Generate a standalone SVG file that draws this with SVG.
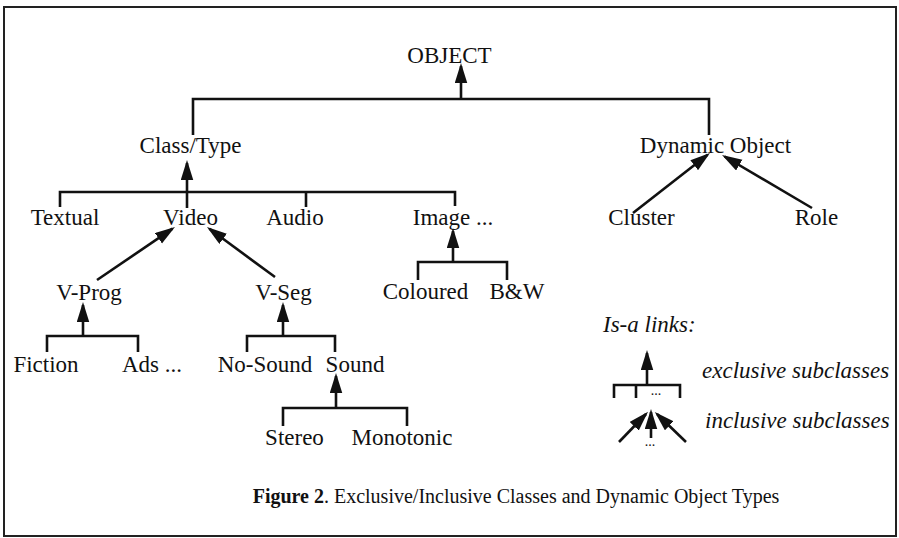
<svg xmlns="http://www.w3.org/2000/svg" width="899" height="538" viewBox="0 0 899 538">
<style>
text{font-family:"Liberation Serif","Times New Roman",serif;font-size:23px;fill:#111;}
.c{text-anchor:middle;}
.it{font-style:italic;}
.cap{font-size:20px;}
.ln{stroke:#111;stroke-width:2.6;fill:none;}
.ar{stroke:#111;stroke-width:2.6;fill:none;marker-end:url(#ah);}
</style>
<defs>
<marker id="ah" markerUnits="userSpaceOnUse" markerWidth="21" markerHeight="13" refX="17" refY="6.25" orient="auto">
<path d="M0,0 L20,6.25 L0,12.5 z" fill="#111"/>
</marker>
</defs>
<rect x="4" y="7" width="892" height="529" fill="#fff" stroke="#222" stroke-width="2"/>

<g id="connectors">
<!-- OBJECT exclusive -->
<polyline class="ln" points="193,135 193,99 709,99 709,135"/>
<line class="ar" x1="461" y1="99" x2="461" y2="66"/>
<!-- Class/Type exclusive -->
<polyline class="ln" points="60,207 60,192 455,192 455,206"/>
<line class="ln" x1="306" y1="192" x2="306" y2="207"/>
<line class="ln" x1="187" y1="192" x2="187" y2="208"/>
<line class="ar" x1="187" y1="192" x2="187" y2="163"/>
<!-- Video inclusive -->
<line class="ar" x1="97" y1="280" x2="172.5" y2="228.7"/>
<line class="ar" x1="275" y1="277" x2="209.4" y2="228.8"/>
<!-- Dynamic Object inclusive -->
<line class="ar" x1="633" y1="213" x2="707.6" y2="154.8"/>
<line class="ar" x1="812" y1="208" x2="724.6" y2="156.5"/>
<!-- Image exclusive -->
<polyline class="ln" points="418,280 418,262 507,262 507,280"/>
<line class="ar" x1="453" y1="262" x2="453" y2="231"/>
<!-- V-Prog exclusive -->
<polyline class="ln" points="47,352 47,336 138,336 138,352"/>
<line class="ar" x1="83" y1="336" x2="83" y2="305"/>
<!-- V-Seg exclusive -->
<polyline class="ln" points="247,352 247,336 335,336 335,352"/>
<line class="ar" x1="283" y1="336" x2="283" y2="305"/>
<!-- Sound exclusive -->
<polyline class="ln" points="283,426 283,408 407,408 407,426"/>
<line class="ar" x1="336" y1="408" x2="336" y2="376"/>
<!-- legend exclusive -->
<polyline class="ln" points="614,398 614,385 680,385 680,398"/>
<line class="ln" x1="636" y1="385" x2="636" y2="398"/>
<line class="ar" x1="647" y1="385" x2="647" y2="353"/>
<!-- legend inclusive -->
<line class="ar" x1="619" y1="442" x2="646" y2="414"/>
<line class="ar" x1="686" y1="442" x2="657" y2="414"/>
<line class="ar" x1="651" y1="438" x2="651" y2="412"/>
</g>

<g id="n-object"><text class="c" x="449.5" y="63">OBJECT</text></g>
<g id="n-classtype"><text class="c" x="190.5" y="153">Class/Type</text></g>
<g id="n-dynamic"><text class="c" x="715.5" y="153">Dynamic Object</text></g>
<g id="n-textual"><text class="c" x="65" y="225">Textual</text></g>
<g id="n-video"><text class="c" x="190.5" y="225">Video</text></g>
<g id="n-audio"><text class="c" x="295" y="225">Audio</text></g>
<g id="n-image"><text class="c" x="453" y="225">Image ...</text></g>
<g id="n-cluster"><text class="c" x="641.5" y="225">Cluster</text></g>
<g id="n-role"><text class="c" x="816.5" y="225">Role</text></g>
<g id="n-vprog"><text class="c" x="89" y="300">V-Prog</text></g>
<g id="n-vseg"><text class="c" x="283.5" y="300">V-Seg</text></g>
<g id="n-coloured"><text class="c" x="425.5" y="299">Coloured</text></g>
<g id="n-bw"><text class="c" x="517" y="299">B&amp;W</text></g>
<g id="n-fiction"><text class="c" x="46" y="372">Fiction</text></g>
<g id="n-ads"><text class="c" x="152" y="372">Ads ...</text></g>
<g id="n-nosound"><text class="c" x="265" y="372">No-Sound</text></g>
<g id="n-sound"><text class="c" x="355" y="372">Sound</text></g>
<g id="n-stereo"><text class="c" x="294.5" y="445">Stereo</text></g>
<g id="n-monotonic"><text class="c" x="402" y="445">Monotonic</text></g>

<g id="legend">
<text class="it" x="603" y="332">Is-a links:</text>
<text class="it" x="702" y="378">exclusive subclasses</text>
<text class="it" x="705" y="428">inclusive subclasses</text>
<text class="c" x="656" y="395" style="font-size:14px">...</text>
<text class="c" x="650" y="446" style="font-size:14px">...</text>
</g>

<g id="caption">
<text class="cap c" x="516" y="503"><tspan font-weight="bold">Figure 2</tspan>. Exclusive/Inclusive Classes and Dynamic Object Types</text>
</g>
</svg>
